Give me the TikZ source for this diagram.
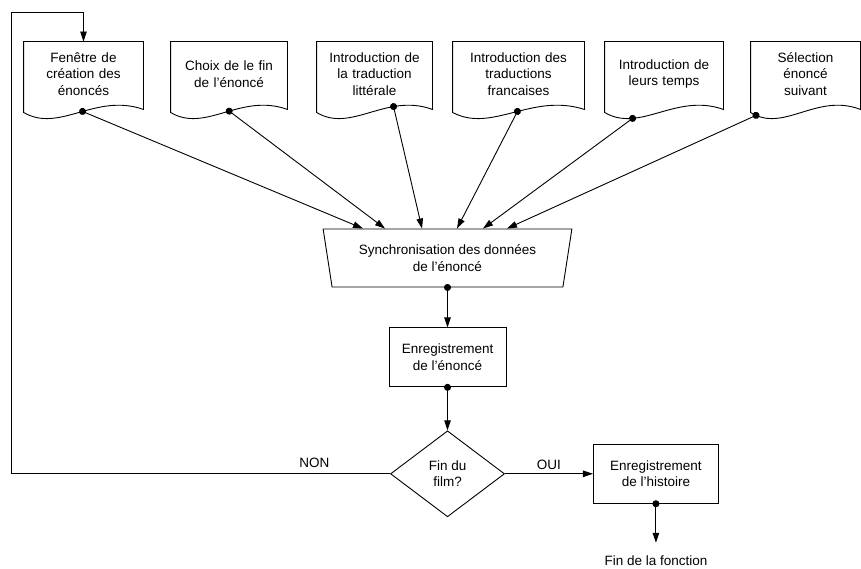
\documentclass[tikz,border=0pt]{standalone}
\usepackage{fontspec}
\setmainfont{Liberation Sans}
\usetikzlibrary{arrows.meta, positioning, calc, shapes.geometric}
\tikzset{
    %Define standard arrow tip
    >={Triangle[length=10pt, width=6.5pt]},
    %Define style for document boxes (text only, outline drawn by \cadredoc)
    doc/.style={
           rectangle,
           inner sep=0pt,
           text width=#1,
           minimum height=64pt,
           align=center},
    %Define style for process boxes
    boite/.style={
           rectangle,
           draw,
           minimum width=#1,
           minimum height=59pt,
           align=center},
    %Define style for the decision
    test/.style={
           diamond,
           draw,
           inner sep=0pt,
           minimum width=114pt,
           minimum height=86pt,
           align=center},
    % Define arrow styles
    fleche/.style={
           ->},
    sortie/.style={
           {Circle[length=7pt]}->,
           shorten <=-3.5pt}
}
% outline of a document around node #1, dot coordinate (#1-out) at curve time #2
\newcommand{\cadredoc}[2]{%
  \draw (#1.north east) -- (#1.north west) -- ($(#1.south west)+(0,6)$)
     .. controls ($(#1.south west)!0.3!(#1.south east)+(0,27)$)
        and ($(#1.south west)!0.6!(#1.south east)+(0,-14)$)
     .. ($(#1.south east)+(0,3)$) coordinate[pos=#2] (#1-out) -- cycle;}

\begin{document}
\begin{tikzpicture}[x=1pt, y=-1pt, line width=0.9pt,
    font=\fontsize{13.5}{16.5}\selectfont]
	\useasboundingbox (0,0) rectangle (861,569);
	%
	% documents
	%
	\node[doc=119pt] (d1) at (83.5,74) {Fenêtre de\\création des\\énoncés};
	\node[doc=116pt] (d2) at (229,74) {Choix de le fin\\de l'énoncé};
	\node[doc=115pt] (d3) at (374.5,74) {Introduction de\\la traduction\\littérale};
	\node[doc=131pt] (d4) at (518.5,74) {Introduction des\\traductions\\francaises};
	\node[doc=118pt] (d5) at (664,74) {Introduction de\\leurs temps};
	\node[doc=109pt] (d6) at (805.5,74) {Sélection\\énoncé\\suivant};
	\foreach \d/\t in {d1/0.53, d2/0.54, d3/0.7, d4/0.53, d5/0.26, d6/0.055}
		\cadredoc{\d}{\t};
	%
	% traitements
	%
	\node[trapezium, draw, inner sep=0pt, trapezium angle=75.5,
	      shape border rotate=180, trapezium stretches=true,
	      minimum width=249pt, minimum height=58pt, align=center]
	      (sync) at (447.5,258) {Synchronisation des données\\de l'énoncé};
	\node[boite=117pt, below=40pt of sync] (enreg) {Enregistrement\\de l'énoncé};
	\node[test, below=43pt of enreg] (fin) {Fin du\\film?};
	\node[boite=125pt, right=88pt of fin] (hist) {Enregistrement\\de l'histoire};
	\node[below=48pt of hist] (fonc) {Fin de la fonction};
	\coordinate (retour) at (11,12);
	%
	% Liens
	%
	\foreach \d/\dx in {d1/-84.5, d2/-62.5, d3/-25.5, d4/9.5, d5/35.5, d6/59.5}
		\draw[sortie] (\d-out) -- ($(sync.north)+(\dx,0)$);
	\draw[sortie] (sync.south) -- (enreg.north);
	\draw[sortie] (enreg.south) -- (fin.north);
	\draw[fleche] (fin.east) -- node[above] {OUI} (hist.west);
	\draw[sortie, shorten >=9pt] (hist.south) -- (fonc.north);
	\draw[fleche] (fin.west) -| node[pos=0.1, above=2pt] {NON} (retour) -| (d1.north);
\end{tikzpicture}
\end{document}
